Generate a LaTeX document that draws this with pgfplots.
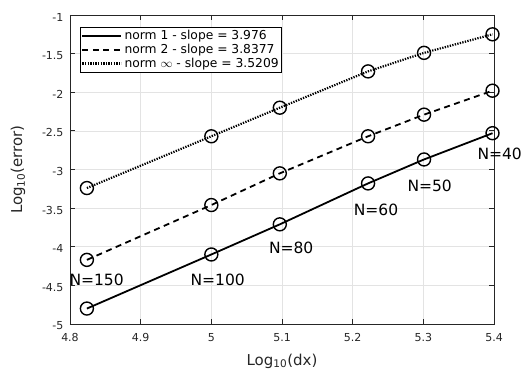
\documentclass[border=0pt]{standalone}
\usepackage{pgfplots}
\pgfplotsset{compat=1.18}
\usepackage{fontspec}
\setmainfont{DejaVu Sans}
\definecolor{axgray}{gray}{0.15}
\begin{document}
\begin{tikzpicture}
\begin{axis}[name=ax, scale only axis, width=424pt, height=309pt,
  xmin=4.8, xmax=5.4, ymin=-5, ymax=-1,
  xtick={4.8,4.9,5,5.1,5.2,5.3,5.4},
  ytick={-5,-4.5,-4,-3.5,-3,-2.5,-2,-1.5,-1},
  grid=major, major grid style={gray!22, line width=0.6pt},
  axis line style={axgray, line width=0.8pt},
  tick style={axgray, line width=0.8pt}, tick align=inside, major tick length=5pt,
  ticklabel style={font=\fontsize{11}{13}\selectfont, text=axgray},
  xticklabel style={yshift=-6pt},
  yticklabel style={xshift=-3pt, yshift=-2pt},
  /pgf/number format/assume math mode=true,
  xlabel={Log\textsubscript{10}(dx)}, ylabel={Log\textsubscript{10}(error)},
  every axis x label/.style={at={(axis description cs:0.5,0)}, anchor=base, yshift=-41pt, font=\fontsize{15}{17}\selectfont, text=axgray},
  every axis y label/.style={at={(axis description cs:-0.1226,0.5)}, anchor=center, rotate=90, font=\fontsize{15}{17}\selectfont, text=axgray},
  legend style={at={(0.0236,0.961)}, anchor=north west, font=\fontsize{12.3}{14}\selectfont, draw=black, line width=0.6pt, inner sep=1pt, row sep=-1pt},
  legend cell align=left,
  legend image code/.code={\draw[#1] (0pt,0pt) -- (39pt,0pt);},
  clip=false,
]
\addplot[black, line width=1.8pt, mark=o, mark size=6.5pt, mark options={solid, line width=1.4pt}] coordinates {
(4.8239,-4.80) (5.0,-4.10) (5.0969,-3.71) (5.2218,-3.18) (5.3010,-2.87) (5.3979,-2.53)};
\addlegendentry{norm 1 - slope = 3.976}
\addplot[black, line width=1.8pt, dash pattern=on 6pt off 4.5pt, mark=o, mark size=6.5pt, mark options={solid, line width=1.4pt}] coordinates {
(4.8239,-4.17) (5.0,-3.46) (5.0969,-3.05) (5.2218,-2.57) (5.3010,-2.29) (5.3979,-1.98)};
\addlegendentry{norm 2 - slope = 3.8377}
\addplot[black, line width=2.2pt, dash pattern=on 1.3pt off 1.3pt, mark=o, mark size=6.5pt, mark options={solid, line width=1.4pt}] coordinates {
(4.8239,-3.24) (5.0,-2.57) (5.0969,-2.20) (5.2218,-1.73) (5.3010,-1.49) (5.3979,-1.25)};
\addlegendentry{norm $\infty$ - slope = 3.5209}
\node[font=\fontsize{15.5}{17}\selectfont] at (axis cs:4.8377,-4.43) {N=150};
\node[font=\fontsize{15.5}{17}\selectfont] at (axis cs:5.009,-4.43) {N=100};
\node[font=\fontsize{15.5}{17}\selectfont] at (axis cs:5.113,-4.01) {N=80};
\node[font=\fontsize{15.5}{17}\selectfont] at (axis cs:5.233,-3.52) {N=60};
\node[font=\fontsize{15.5}{17}\selectfont] at (axis cs:5.309,-3.21) {N=50};
\node[font=\fontsize{15.5}{17}\selectfont] at (axis cs:5.408,-2.80) {N=40};
\end{axis}
\pgfresetboundingbox
\path ([shift={(-70pt,-48pt)}]ax.south west) rectangle ([shift={(30pt,15pt)}]ax.north east);
\end{tikzpicture}
\end{document}
